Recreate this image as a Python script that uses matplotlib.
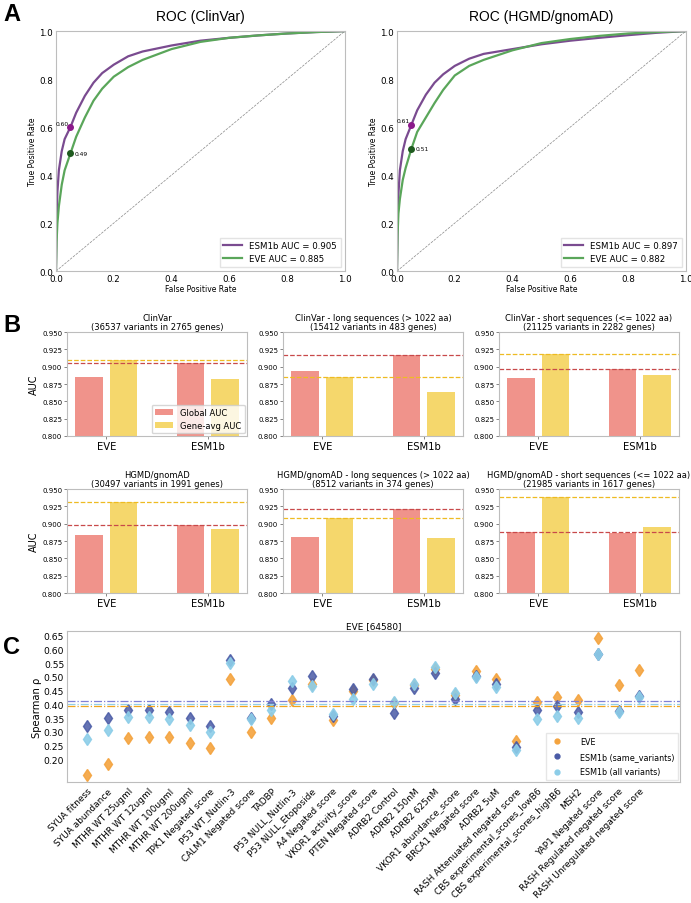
import numpy as np
import matplotlib
matplotlib.use("Agg")
import matplotlib.pyplot as plt
from matplotlib.lines import Line2D

plt.rcParams['font.family'] = ['DejaVu Sans']

# ---- Panel A: ROC curves ----
roc_fpr = [0, 0.002, 0.005, 0.01, 0.02, 0.03, 0.05, 0.07, 0.1, 0.13, 0.16,
           0.2, 0.25, 0.3, 0.4, 0.5, 0.6, 0.7, 0.8, 0.9, 1.0]
clinvar_esm_tpr = [0, 0.2, 0.33, 0.42, 0.5, 0.55, 0.60, 0.66, 0.73, 0.785, 0.825,
                   0.86, 0.895, 0.915, 0.94, 0.96, 0.972, 0.982, 0.99, 0.996, 1.0]
clinvar_eve_tpr = [0, 0.12, 0.2, 0.27, 0.36, 0.42, 0.49, 0.56, 0.64, 0.71, 0.76,
                   0.81, 0.85, 0.88, 0.925, 0.955, 0.972, 0.982, 0.99, 0.996, 1.0]
hgmd_esm_tpr = [0, 0.2, 0.32, 0.42, 0.5, 0.55, 0.61, 0.67, 0.735, 0.785, 0.82,
                0.855, 0.885, 0.905, 0.925, 0.945, 0.96, 0.972, 0.983, 0.993, 1.0]
hgmd_eve_tpr = [0, 0.15, 0.24, 0.3, 0.38, 0.43, 0.51, 0.58, 0.64, 0.7, 0.755,
                0.815, 0.855, 0.88, 0.92, 0.95, 0.967, 0.98, 0.99, 0.996, 1.0]
roc_titles = ["ROC (ClinVar)", "ROC (HGMD/gnomAD)"]
roc_auc_esm = [0.905, 0.897]
roc_auc_eve = [0.885, 0.882]
fpr_cut = 0.05
tpr_at_cut_esm = [0.60, 0.61]
tpr_at_cut_eve = [0.49, 0.51]

# ---- Panel B: global vs gene-averaged AUC ----
b_titles = [
    "ClinVar\n(36537 variants in 2765 genes)",
    "ClinVar - long sequences (> 1022 aa)\n(15412 variants in 483 genes)",
    "ClinVar - short sequences (<= 1022 aa)\n(21125 variants in 2282 genes)",
    "HGMD/gnomAD\n(30497 variants in 1991 genes)",
    "HGMD/gnomAD - long sequences (> 1022 aa)\n(8512 variants in 374 genes)",
    "HGMD/gnomAD - short sequences (<= 1022 aa)\n(21985 variants in 1617 genes)",
]
b_models = ["EVE", "ESM1b"]
b_global = [[0.885, 0.905], [0.894, 0.917], [0.884, 0.896],
            [0.883, 0.898], [0.881, 0.921], [0.888, 0.886]]
b_geneavg = [[0.910, 0.882], [0.885, 0.863], [0.919, 0.888],
             [0.932, 0.892], [0.908, 0.879], [0.938, 0.895]]

# ---- Panel C: Spearman correlation per DMS assay ----
c_assays = [
    "SYUA fitness", "SYUA abundance", "MTHR WT 25ugml", "MTHR WT 12ugml",
    "MTHR WT 100ugml", "MTHR WT 200ugml", "TPK1 Negated score", "P53 WT_Nutlin-3",
    "CALM1 Negated score", "TADBP", "P53 NULL_Nutlin-3", "P53 NULL_Etoposide",
    "A4 Negated score", "VKOR1 activity_score", "PTEN Negated score", "ADRB2 Control",
    "ADRB2 150nM", "ADRB2 625nM", "VKOR1 abundance_score", "BRCA1 Negated score",
    "ADRB2 5uM", "RASH Attenuated negated score", "CBS experimental_scores_lowB6",
    "CBS experimental_scores_highB6", "MSH2", "YAP1 Negated score",
    "RASH Regulated negated score", "RASH Unregulated negated score",
]
c_eve = [0.142, 0.182, 0.276, 0.282, 0.282, 0.260, 0.242, 0.494, 0.300, 0.349,
         0.417, 0.475, 0.342, 0.450, 0.487, 0.405, 0.470, 0.530, 0.435, 0.520,
         0.491, 0.268, 0.409, 0.426, 0.415, 0.642, 0.470, 0.527]
c_esm_same = [0.321, 0.351, 0.381, 0.379, 0.374, 0.350, 0.321, 0.560, 0.351, 0.401,
              0.461, 0.505, 0.358, 0.457, 0.494, 0.370, 0.461, 0.515, 0.419, 0.505,
              0.473, 0.244, 0.379, 0.393, 0.372, 0.585, 0.376, 0.432]
c_esm_all = [0.273, 0.307, 0.355, 0.355, 0.347, 0.326, 0.300, 0.551, 0.347, 0.378,
             0.486, 0.468, 0.364, 0.419, 0.476, 0.407, 0.475, 0.536, 0.440, 0.499,
             0.463, 0.233, 0.348, 0.359, 0.349, 0.583, 0.372, 0.428]

SPINE = "#bdbdbd"
PURPLE = "#7a4b90"
GREEN = "#5aa65a"

fig = plt.figure(figsize=(6.91, 9.04), dpi=100)


def style_spines(ax):
    for s in ax.spines.values():
        s.set_color(SPINE)
        s.set_linewidth(0.8)


# Panel A
roc_esm = [clinvar_esm_tpr, hgmd_esm_tpr]
roc_eve = [clinvar_eve_tpr, hgmd_eve_tpr]
for i, left in enumerate([0.081, 0.5745]):
    ax = fig.add_axes([left, 0.699, 0.418, 0.2655])
    ax.plot([0, 1], [0, 1], ls="--", color="#888888", lw=0.5)
    ax.plot(roc_fpr, roc_esm[i], color=PURPLE, lw=1.6,
            label=f"ESM1b AUC = {roc_auc_esm[i]:.3f}")
    ax.plot(roc_fpr, roc_eve[i], color=GREEN, lw=1.6,
            label=f"EVE AUC = {roc_auc_eve[i]:.3f}")
    ax.plot(fpr_cut, tpr_at_cut_esm[i], "o", color="#8b1a8b", ms=4, zorder=5)
    ax.plot(fpr_cut, tpr_at_cut_eve[i], "o", color="#1f5a1f", ms=4, zorder=5)
    ax.text(fpr_cut - 0.005, tpr_at_cut_esm[i] + 0.005, f"{tpr_at_cut_esm[i]:.2f}",
            fontsize=4.3, ha="right", va="bottom")
    ax.text(fpr_cut + 0.015, tpr_at_cut_eve[i], f"{tpr_at_cut_eve[i]:.2f}",
            fontsize=4.3, ha="left", va="center")
    ax.set_xlim(0, 1)
    ax.set_ylim(0, 1)
    ax.set_xticks(np.arange(0, 1.01, 0.2))
    ax.set_yticks(np.arange(0, 1.01, 0.2))
    ax.tick_params(labelsize=6.3, length=0, pad=2)
    ax.set_xlabel("False Positive Rate", fontsize=5.5, labelpad=1)
    ax.set_ylabel("True Positive Rate", fontsize=5.5, labelpad=2)
    ax.set_title(roc_titles[i], fontsize=10, family="Liberation Sans", pad=8)
    ax.legend(loc="lower right", fontsize=6.2, frameon=True, fancybox=False,
              edgecolor="#dddddd", handlelength=2.2)
    style_spines(ax)

# Panel B
b_lefts = [0.097, 0.4096, 0.7222]
b_bottoms = [0.5166, 0.3429]
x = np.arange(len(b_models))
for k in range(6):
    r, c = divmod(k, 3)
    ax = fig.add_axes([b_lefts[c], b_bottoms[r], 0.2605, 0.115])
    ax.bar(x - 0.17, b_global[k], width=0.27, color="#f0938b", label="Global AUC")
    ax.bar(x + 0.17, b_geneavg[k], width=0.27, color="#f5d76c", label="Gene-avg AUC")
    ax.axhline(max(b_global[k]), color="#c8494a", ls="--", lw=0.9)
    ax.axhline(max(b_geneavg[k]), color="#eebb22", ls="--", lw=0.9)
    ax.set_ylim(0.8, 0.95)
    ax.set_yticks(np.arange(0.8, 0.951, 0.025))
    ax.set_yticklabels([f"{v:.3f}" for v in np.arange(0.8, 0.951, 0.025)])
    ax.set_xticks(x)
    ax.set_xticklabels(b_models)
    ax.tick_params(axis="y", labelsize=5, length=2, width=0.5, pad=1.5, color="#555555")
    ax.tick_params(axis="x", labelsize=7.2, length=2, width=0.5, pad=1.5, color="#555555")
    ax.set_title(b_titles[k], fontsize=6, pad=2, linespacing=1.1)
    if c == 0:
        ax.set_ylabel("AUC", fontsize=7, labelpad=2)
    if k == 0:
        ax.legend(loc="lower right", fontsize=6, frameon=True, fancybox=True,
                  edgecolor="#cccccc", handlelength=2.2, borderaxespad=0.3)
    style_spines(ax)

# Panel C
ax = fig.add_axes([0.097, 0.1338, 0.887, 0.167])
xc = np.arange(len(c_assays))
ax.plot(xc, c_eve, "d", ls="none", color="#f4a33e", ms=6, alpha=0.9)
ax.plot(xc, c_esm_same, "d", ls="none", color="#4a5ba6", ms=6, alpha=0.85)
ax.plot(xc, c_esm_all, "d", ls="none", color="#8ccde8", ms=6, alpha=0.9)
ax.axhline(np.mean(c_esm_same), color="#7f7fd6", ls="-.", lw=0.9)
ax.axhline(np.mean(c_esm_all), color="#93cfe6", ls="-.", lw=0.9)
ax.axhline(np.mean(c_eve), color="#f0a51c", ls="-.", lw=0.9)
ax.set_xlim(-1, len(c_assays) + 1)
ax.set_yticks(np.arange(0.2, 0.651, 0.05))
ax.set_yticklabels([f"{v:.2f}" for v in np.arange(0.2, 0.651, 0.05)])
ax.set_xticks(xc)
ax.set_xticklabels(c_assays, rotation=45, ha="right", rotation_mode="anchor")
ax.tick_params(axis="y", labelsize=6.6, length=0, pad=2)
ax.tick_params(axis="x", labelsize=6.5, length=0, pad=3)
ax.set_ylabel("Spearman ρ", fontsize=7.2, labelpad=1)
ax.set_title("EVE [64580]", fontsize=6.4, pad=2)
handles = [
    Line2D([], [], marker="o", ls="none", color="#f4a33e", ms=3.5, label="EVE"),
    Line2D([], [], marker="o", ls="none", color="#4a5ba6", ms=3.5, label="ESM1b (same_variants)"),
    Line2D([], [], marker="o", ls="none", color="#8ccde8", ms=3.5, label="ESM1b (all variants)"),
]
ax.legend(handles=handles, loc="lower right", fontsize=5.8, frameon=True,
          fancybox=False, edgecolor="#e0e0e0", handletextpad=1.8,
          labelspacing=0.8, borderaxespad=0.3)
style_spines(ax)

for letter, y in [("A", 0.997), ("B", 0.653), ("C", 0.297)]:
    fig.text(0.005, y, letter, fontsize=17, fontweight="bold",
             family="Liberation Sans", va="top", ha="left")

fig.savefig("out.png", dpi=100)
